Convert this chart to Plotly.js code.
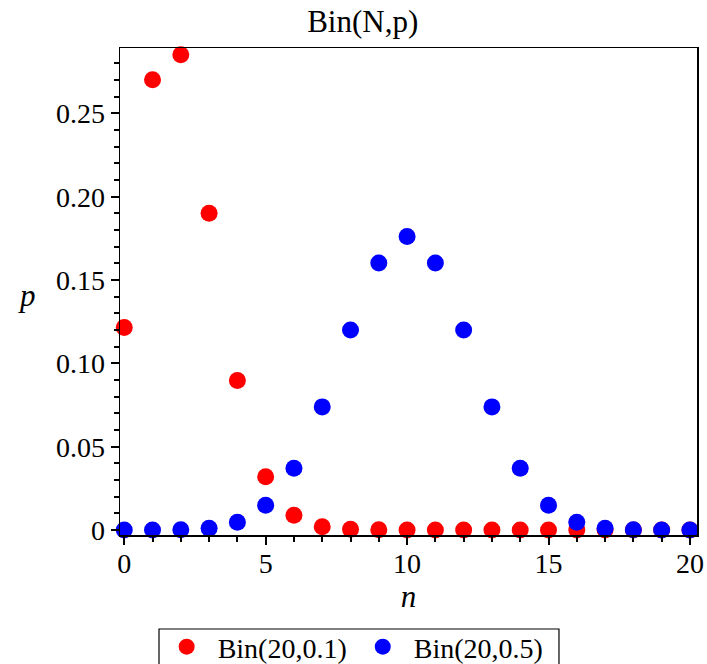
<!DOCTYPE html>
<html>
<head>
<meta charset="utf-8">
<script src="https://cdn.plot.ly/plotly-3.0.1.min.js"></script>
<style>
  html, body { margin: 0; padding: 0; background: #fff; }
  #plot { width: 707px; height: 664px; }
</style>
</head>
<body>
<div id="plot"></div>
<script>
// Binomial probabilities p(n) for n = 0..20
const n = [0, 1, 2, 3, 4, 5, 6, 7, 8, 9, 10, 11, 12, 13, 14, 15, 16, 17, 18, 19, 20];
const binP01 = [0.1216, 0.2702, 0.2852, 0.1901, 0.0898, 0.0319, 0.0089, 0.0020, 0.0004, 0.0001,
                0, 0, 0, 0, 0, 0, 0, 0, 0, 0, 0];
const binP05 = [0, 0, 0.0002, 0.0011, 0.0046, 0.0148, 0.0370, 0.0739, 0.1201, 0.1602,
                0.1762, 0.1602, 0.1201, 0.0739, 0.0370, 0.0148, 0.0046, 0.0011, 0.0002, 0, 0];
const seriesNames = ['Bin(20,0.1)', 'Bin(20,0.5)'];
const yTickVals = [0, 0.05, 0.10, 0.15, 0.20, 0.25];
const yTickText = ['0', '0.05', '0.10', '0.15', '0.20', '0.25'];
const xTickVals = [0, 5, 10, 15, 20];

const serif = 'Liberation Serif, Times New Roman, serif';

const traces = [
  {
    x: n, y: binP01, name: seriesNames[0], type: 'scatter', mode: 'markers',
    marker: { color: '#ff0000', size: 17 }, cliponaxis: false
  },
  {
    x: n, y: binP05, name: seriesNames[1], type: 'scatter', mode: 'markers',
    marker: { color: '#0000ff', size: 17 }, cliponaxis: false
  }
];

const layout = {
  width: 707, height: 664,
  margin: { l: 120, r: 10, t: 48, b: 129, autoexpand: false },
  paper_bgcolor: '#fff', plot_bgcolor: '#fff',
  font: { family: serif, size: 28, color: '#000' },
  title: {
    text: 'Bin(N,p)', font: { family: serif, size: 31, color: '#000' },
    x: 0.513, xanchor: 'center', y: 0.968, yanchor: 'middle'
  },
  xaxis: {
    range: [-0.15, 20.25], showgrid: false, zeroline: false,
    showline: true, linecolor: '#000', linewidth: 1.5, mirror: true,
    tickmode: 'array', tickvals: xTickVals, ticks: 'outside', ticklen: 8,
    tickwidth: 2, tickcolor: '#000', ticklabelstandoff: -5,
    minor: { dtick: 1, ticks: 'outside', ticklen: 5, tickwidth: 2, tickcolor: '#000' },
    tickfont: { family: serif, size: 28 },
    title: { text: '<i>n</i>', font: { family: serif, size: 31 }, standoff: 4 }
  },
  yaxis: {
    range: [-0.003, 0.2893], showgrid: false, zeroline: false,
    showline: true, linecolor: '#000', linewidth: 1.5, mirror: true,
    tickmode: 'array', tickvals: yTickVals, ticktext: yTickText,
    ticks: 'outside', ticklen: 8, tickwidth: 2, tickcolor: '#000',
    minor: { dtick: 0.01, ticks: 'outside', ticklen: 5, tickwidth: 2, tickcolor: '#000' },
    tickfont: { family: serif, size: 28 }
  },
  annotations: [{
    text: '<i>p</i>', xref: 'paper', yref: 'paper', x: -0.161, y: 0.491,
    xanchor: 'center', yanchor: 'middle', showarrow: false,
    font: { family: serif, size: 31, color: '#000' }
  }],
  // frame around the legend entries
  shapes: [{
    type: 'rect', xref: 'paper', yref: 'paper', layer: 'above',
    x0: 0.0676, x1: 0.7608, y0: -0.193, y1: -0.32,
    line: { color: '#000', width: 1.2 }, fillcolor: 'rgba(0,0,0,0)'
  }],
  showlegend: true,
  legend: {
    orientation: 'h', xref: 'paper', yref: 'paper', x: 0.0618, xanchor: 'left',
    y: -0.1786, yanchor: 'top', borderwidth: 0, itemwidth: 52,
    font: { family: serif, size: 28, color: '#000' }, bgcolor: 'rgba(0,0,0,0)'
  }
};

Plotly.newPlot('plot', traces, layout, { displayModeBar: false, staticPlot: true });
</script>
</body>
</html>
